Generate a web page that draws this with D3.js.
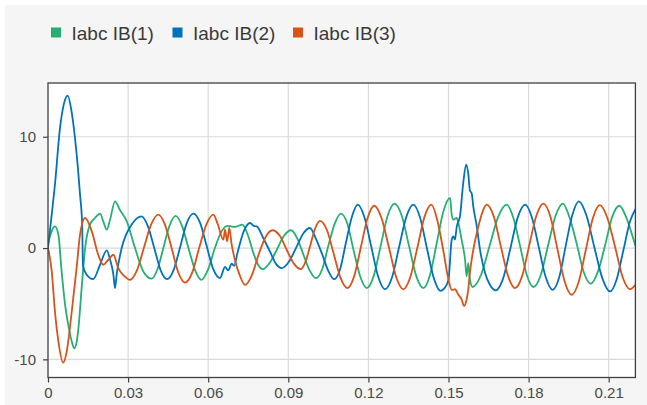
<!DOCTYPE html>
<html>
<head>
<meta charset="utf-8">
<script src="https://cdn.jsdelivr.net/npm/d3@7"></script>
<style>
  html, body { margin: 0; padding: 0; background: #ffffff; }
  svg { display: block; }
  text { font-family: "Liberation Sans", Arial, Helvetica, sans-serif; }
</style>
</head>
<body>
<svg id="chart" width="647" height="405"></svg>
<script>
// Three-phase current measured at bus B: [time (s), current]
const seriesNames = ["Iabc IB(1)", "Iabc IB(2)", "Iabc IB(3)"];

const xTicks = [0, 0.03, 0.06, 0.09, 0.12, 0.15, 0.18, 0.21];
const yTicks = [-10, 0, 10];
const xDomain = [0, 0.22];
const yDomain = [-11.63, 14.83];

const ib1 = [
  [0.0000, 0.4], [0.0026, 1.95], [0.0039, 1.2], [0.0051, -2.1], [0.0064, -5.1],
  [0.0076, -6.9], [0.0089, -8.4], [0.0098, -9.0], [0.0107, -8.5], [0.0114, -7.2],
  [0.0126, -3.6], [0.0139, 0.0], [0.0157, 2.1], [0.0176, 2.7], [0.0195, 3.1],
  [0.0207, 2.4], [0.0220, 1.65], [0.0232, 2.5], [0.0251, 4.2], [0.0270, 3.4],
  [0.0295, 2.4], [0.0326, 0.0], [0.0357, -2.1], [0.0388, -2.75], [0.0410, -1.9],
  [0.0433, 0.1], [0.0455, 2.0], [0.0478, 2.9], [0.0502, 2.0], [0.0526, 0.0],
  [0.0551, -2.0], [0.0575, -2.85], [0.0600, -1.9], [0.0625, 0.0], [0.0650, 1.5],
  [0.0672, 2.0], [0.0700, 1.9], [0.0728, 2.1], [0.0748, 1.2], [0.0770, -0.5],
  [0.0787, -1.5], [0.0805, -1.9], [0.0831, -1.3], [0.0857, -0.15], [0.0884, 1.1],
  [0.0910, 1.6], [0.0933, 0.9], [0.0956, -0.55], [0.0980, -2.0], [0.1003, -2.7],
  [0.1027, -1.9], [0.1050, 0.2], [0.1074, 2.2], [0.1097, 3.1], [0.1121, 2.2],
  [0.1145, -0.25], [0.1170, -2.6], [0.1194, -3.6], [0.1220, -2.5], [0.1246, 0.2],
  [0.1272, 2.9], [0.1298, 4.0], [0.1325, 2.9], [0.1352, 0.2], [0.1379, -2.5],
  [0.1406, -3.6], [0.1431, -2.4], [0.1456, 0.45], [0.1481, 3.3], [0.1506, 4.5],
  [0.1512, 3.0], [0.1518, 2.55], [0.1531, 2.7], [0.1537, 2.25], [0.1549, 0.75],
  [0.1562, -1.05], [0.1568, -2.55], [0.1574, -1.35], [0.1580, -2.8], [0.1590, -3.5],
  [0.1622, -2.4], [0.1654, 0.2], [0.1686, 2.8], [0.1718, 3.9], [0.1743, 2.7],
  [0.1768, 0.2], [0.1793, -2.4], [0.1818, -3.5], [0.1846, -2.4], [0.1873, 0.25],
  [0.1901, 2.9], [0.1928, 4.0], [0.1954, 2.7], [0.1980, 0.4], [0.2007, -2.2],
  [0.2033, -3.2], [0.2060, -2.1], [0.2087, 0.3], [0.2113, 2.8], [0.2140, 3.8],
  [0.2165, 2.8], [0.2185, 1.4], [0.2200, 0.2]
];

const ib2 = [
  [0.0000, 0.0], [0.0013, 2.8], [0.0026, 5.7], [0.0045, 10.8], [0.0060, 13.0],
  [0.0074, 13.7], [0.0088, 12.3], [0.0101, 9.9], [0.0112, 7.2], [0.0120, 4.8],
  [0.0128, 2.1], [0.0131, -1.6], [0.0145, -2.4], [0.0169, -2.8], [0.0195, -1.5],
  [0.0220, -0.2], [0.0232, -1.0], [0.0245, -2.4], [0.0251, -3.6], [0.0257, -2.4],
  [0.0276, 0.0], [0.0313, 2.1], [0.0351, 2.85], [0.0375, 1.9], [0.0398, 0.0],
  [0.0422, -2.0], [0.0446, -2.8], [0.0470, -2.0], [0.0495, 0.1], [0.0519, 2.2],
  [0.0544, 3.1], [0.0569, 2.3], [0.0594, 0.2], [0.0619, -1.9], [0.0644, -2.7],
  [0.0663, -1.7], [0.0675, -2.0], [0.0688, -1.4], [0.0697, -1.6], [0.0710, -0.4],
  [0.0733, 1.5], [0.0757, 2.25], [0.0770, 2.0], [0.0782, 1.95], [0.0806, 0.9],
  [0.0831, -0.3], [0.0853, -1.4], [0.0875, -1.8], [0.0903, -1.2], [0.0931, 0.1],
  [0.0956, 1.3], [0.0981, 1.8], [0.1004, 0.8], [0.1026, -0.5], [0.1049, -2.0],
  [0.1072, -2.8], [0.1094, -1.9], [0.1116, 0.5], [0.1138, 2.8], [0.1160, 3.9],
  [0.1186, 2.7], [0.1211, 0.1], [0.1237, -2.6], [0.1262, -3.7], [0.1289, -2.6],
  [0.1315, 0.1], [0.1342, 2.8], [0.1368, 3.9], [0.1394, 2.7], [0.1419, 0.0],
  [0.1445, -2.7], [0.1470, -3.85], [0.1485, -3.6], [0.1500, -2.85], [0.1512, 0.75],
  [0.1518, 1.05], [0.1524, 0.75], [0.1531, 1.95], [0.1543, 2.85], [0.1555, 5.8],
  [0.1566, 7.5], [0.1574, 6.7], [0.1580, 5.2], [0.1587, 4.9], [0.1593, 3.7],
  [0.1606, 1.95], [0.1618, -0.15], [0.1637, -2.25], [0.1655, -3.3], [0.1677, -3.8],
  [0.1705, -2.7], [0.1732, 0.0], [0.1760, 2.8], [0.1787, 3.9], [0.1813, 2.7],
  [0.1838, 0.1], [0.1864, -2.6], [0.1890, -3.75], [0.1915, -2.6], [0.1939, 0.2],
  [0.1964, 3.0], [0.1988, 4.2], [0.2017, 2.9], [0.2046, 0.1], [0.2076, -2.7],
  [0.2105, -3.9], [0.2130, -2.8], [0.2155, -0.2], [0.2180, 2.4], [0.2200, 3.5]
];

const ib3 = [
  [0.0000, 0.0], [0.0014, -2.1], [0.0026, -5.7], [0.0039, -8.4], [0.0057, -10.3],
  [0.0070, -9.3], [0.0089, -5.7], [0.0107, -1.8], [0.0120, 1.2], [0.0139, 2.7],
  [0.0164, 1.5], [0.0188, -0.6], [0.0207, -1.5], [0.0226, -1.05], [0.0245, -0.6],
  [0.0263, -1.8], [0.0285, -2.5], [0.0307, -2.85], [0.0333, -2.0], [0.0360, 0.1],
  [0.0386, 2.1], [0.0413, 3.0], [0.0438, 2.1], [0.0463, 0.0], [0.0488, -2.2],
  [0.0513, -3.1], [0.0540, -2.2], [0.0566, 0.0], [0.0593, 2.1], [0.0619, 3.0],
  [0.0635, 2.2], [0.0657, 0.75], [0.0663, 1.65], [0.0671, 0.6], [0.0679, 1.8],
  [0.0688, 0.3], [0.0700, -1.05], [0.0719, -2.5], [0.0738, -3.3], [0.0764, -2.4],
  [0.0790, -0.5], [0.0815, 1.0], [0.0841, 1.6], [0.0868, 1.1], [0.0894, -0.15],
  [0.0921, -1.4], [0.0947, -1.9], [0.0965, -1.2], [0.0983, 0.3], [0.1001, 1.8],
  [0.1019, 2.45], [0.1045, 1.6], [0.1071, -0.6], [0.1096, -2.7], [0.1122, -3.6],
  [0.1147, -2.5], [0.1172, 0.1], [0.1197, 2.7], [0.1222, 3.8], [0.1249, 2.7],
  [0.1277, 0.05], [0.1304, -2.6], [0.1331, -3.7], [0.1357, -2.6], [0.1384, 0.1],
  [0.1410, 2.8], [0.1436, 3.9], [0.1458, 2.5], [0.1480, -0.15], [0.1500, -2.85],
  [0.1512, -3.75], [0.1524, -3.7], [0.1537, -4.2], [0.1549, -4.6], [0.1558, -5.2],
  [0.1568, -4.6], [0.1574, -3.75], [0.1580, -2.25], [0.1593, -0.15], [0.1612, 1.95],
  [0.1628, 3.3], [0.1643, 3.9], [0.1670, 2.8], [0.1696, 0.15], [0.1723, -2.5],
  [0.1749, -3.6], [0.1776, -2.5], [0.1802, 0.2], [0.1829, 2.9], [0.1855, 4.0],
  [0.1882, 2.8], [0.1908, -0.1], [0.1935, -3.0], [0.1961, -4.2], [0.1988, -3.0],
  [0.2014, -0.2], [0.2041, 2.7], [0.2067, 3.85], [0.2095, 2.7], [0.2124, 0.1],
  [0.2152, -2.6], [0.2180, -3.7], [0.2200, -3.3]
];

const seriesData = [ib1, ib2, ib3];
const seriesColors = ["#25b072", "#0072bd", "#d95319"];

const svg = d3.select("#chart");
const W = 647, H = 405;
const plot = { left: 48, right: 635.4, top: 83, bottom: 377.5 };

// panel background
svg.append("rect").attr("x", 0).attr("y", 0).attr("width", W).attr("height", H).attr("fill", "#ffffff");
svg.append("rect").attr("x", 5).attr("y", 5).attr("width", W - 5).attr("height", H - 5).attr("fill", "#f5f5f5");

const x = d3.scaleLinear().domain(xDomain).range([plot.left, plot.right]);
const y = d3.scaleLinear().domain(yDomain).range([plot.bottom, plot.top]);

// plot area
svg.append("rect")
  .attr("x", plot.left).attr("y", plot.top)
  .attr("width", plot.right - plot.left).attr("height", plot.bottom - plot.top)
  .attr("fill", "#ffffff");

// grid
const grid = svg.append("g").attr("stroke", "#dadada").attr("stroke-width", 1.2);
grid.selectAll("line.vx").data(xTicks.filter(t => t > 0)).join("line")
  .attr("x1", d => x(d)).attr("x2", d => x(d))
  .attr("y1", plot.top).attr("y2", plot.bottom);
grid.selectAll("line.hy").data(yTicks).join("line")
  .attr("x1", plot.left).attr("x2", plot.right)
  .attr("y1", d => y(d)).attr("y2", d => y(d));

// series lines
svg.append("clipPath").attr("id", "plotclip")
  .append("rect").attr("x", plot.left).attr("y", plot.top)
  .attr("width", plot.right - plot.left).attr("height", plot.bottom - plot.top);

const line = d3.line()
  .x(d => x(d[0]))
  .y(d => y(d[1]))
  .curve(d3.curveMonotoneX);

const lines = svg.append("g").attr("clip-path", "url(#plotclip)");
seriesData.forEach((s, i) => {
  lines.append("path")
    .datum(s)
    .attr("fill", "none")
    .attr("stroke", seriesColors[i])
    .attr("stroke-width", 1.8)
    .attr("stroke-linejoin", "round")
    .attr("d", line);
});

// axes
const xAxis = d3.axisBottom(x).tickValues(xTicks)
  .tickFormat(d => d === 0 ? "0" : d.toFixed(2))
  .tickSize(5).tickPadding(5);
const yAxis = d3.axisLeft(y).tickValues(yTicks)
  .tickFormat(d => String(d))
  .tickSize(5).tickPadding(7);

const gx = svg.append("g").attr("transform", `translate(0,${plot.bottom})`).call(xAxis);
const gy = svg.append("g").attr("transform", `translate(${plot.left},0)`).call(yAxis);
[gx, gy].forEach(g => {
  g.select(".domain").remove();
  g.selectAll(".tick line").attr("stroke", "#404040").attr("stroke-width", 1.2);
  g.selectAll(".tick text")
    .attr("fill", "#4a4a4a")
    .style("font-size", "15px")
    .style("font-family", "'Liberation Sans', Arial, sans-serif");
});

// frame
svg.append("rect")
  .attr("x", plot.left).attr("y", plot.top)
  .attr("width", plot.right - plot.left).attr("height", plot.bottom - plot.top)
  .attr("fill", "none").attr("stroke", "#404040").attr("stroke-width", 1.3);

// legend
const legend = svg.append("g");
const legendX = [51, 172.5, 293];
seriesNames.forEach((name, i) => {
  const g = legend.append("g").attr("transform", `translate(${legendX[i]},0)`);
  g.append("rect").attr("x", 0).attr("y", 27.5).attr("width", 10).attr("height", 10)
    .attr("fill", seriesColors[i]);
  g.append("text").attr("x", 20.5).attr("y", 39.5)
    .attr("fill", "#3a3a3a")
    .style("font-size", "19px")
    .text(name);
});
</script>
</body>
</html>
